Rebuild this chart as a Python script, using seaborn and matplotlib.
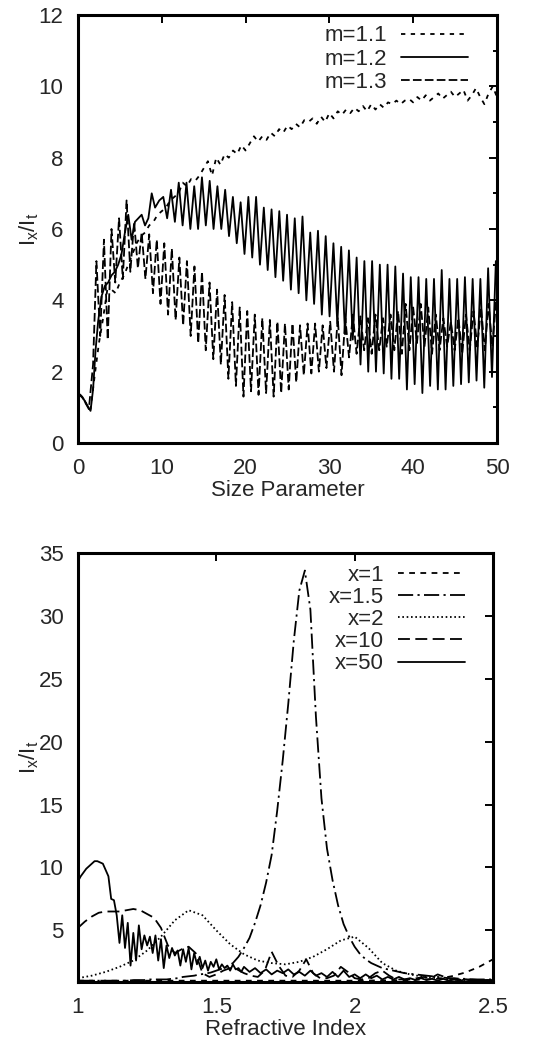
import numpy as np
import seaborn as sns
import matplotlib
matplotlib.use('Agg')
import matplotlib.pyplot as plt
from matplotlib.ticker import MultipleLocator

# ---- top panel: ratio vs size parameter ----
# m=1.1, sampled every 0.5 from x=0 to x=50
m11_y = [1.4, 1.3, 1.1, 0.95, 1.9, 2.8, 3.5, 4.3, 4.3, 4.2,
         4.5, 4.7, 5.0, 5.3, 5.6, 5.8, 5.9, 6.1, 6.2, 6.4,
         6.5, 6.6, 6.8, 6.9, 7.0, 7.3, 7.2, 7.4, 7.35, 7.5,
         7.7, 7.9, 7.5, 8.0, 7.8, 8.1, 8.0, 8.2, 8.1, 8.35,
         8.2, 8.4, 8.6, 8.45, 8.6, 8.5, 8.7, 8.6, 8.8, 8.7,
         8.9, 8.8, 8.95, 8.85, 9.05, 9.0, 9.1, 8.95, 9.15, 9.0,
         9.25, 9.1, 9.3, 9.2, 9.35, 9.25, 9.4, 9.3, 9.45, 9.3,
         9.5, 9.35, 9.5, 9.4, 9.55, 9.5, 9.6, 9.5, 9.6, 9.65,
         9.55, 9.7, 9.6, 9.75, 9.6, 9.7, 9.8, 9.65, 9.75, 9.85,
         9.7, 9.8, 9.9, 9.6, 9.75, 9.95, 9.7, 9.5, 9.8, 10.0,
         9.7]

# m=1.2: smooth start, then ripple (peaks / troughs)
m12_start_x = [0, 0.5, 1.0, 1.5, 1.8, 2.1, 2.4, 2.8, 3.2, 3.6, 4.0, 4.4, 4.8,
               5.2, 5.6, 6.0, 6.4, 6.8, 7.2, 7.6, 8.0, 8.4, 8.8, 9.2, 9.7]
m12_start_y = [1.4, 1.3, 1.1, 0.9, 1.5, 2.6, 3.4, 4.1, 4.4, 4.5, 4.7, 4.8, 5.0,
               5.3, 5.9, 6.4, 5.7, 6.2, 6.3, 6.4, 6.1, 6.3, 7.0, 6.6, 6.8]
m12_ripple_x0 = 10.18
m12_period = 0.923
m12_peaks = [6.9, 7.1, 7.3, 7.3, 7.2, 7.45, 7.35, 7.2, 7.1, 6.9,
             6.75, 6.9, 6.9, 6.6, 6.55, 6.5, 6.4, 6.3, 6.35, 5.9,
             5.95, 5.8, 5.6, 5.5, 5.4, 5.2, 5.1, 5.1, 5.0, 5.0,
             4.95, 4.75, 4.65, 4.65, 4.6, 4.6, 4.85, 4.6, 4.6, 4.65,
             4.6, 4.6, 4.9, 5.1]
m12_troughs = [6.3, 6.2, 6.1, 6.0, 6.0, 6.1, 6.0, 6.0, 5.8, 5.6,
               5.3, 5.2, 5.0, 4.85, 4.65, 4.55, 4.3, 4.2, 4.0, 3.9,
               3.6, 3.55, 3.35, 3.05, 2.9, 2.2, 2.0, 2.0, 1.95, 1.8,
               1.8, 1.5, 1.65, 1.4, 1.6, 1.5, 1.5, 1.6, 1.65, 1.7,
               1.75, 1.55, 1.85]

# m=1.3: short start, then ripple
m13_start_x = [0, 0.6, 1.3, 1.8]
m13_start_y = [1.4, 1.25, 0.95, 2.2]
m13_ripple_x0 = 2.2
m13_period = 0.9
m13_peaks = [5.1, 5.7, 6.0, 6.3, 6.8, 6.2, 5.9, 5.85, 5.7, 5.6,
             5.45, 5.2, 5.1, 4.95, 4.8, 4.5, 4.3, 4.15, 3.95, 3.8,
             3.7, 3.6, 3.5, 3.45, 3.4, 3.35, 3.35, 3.3, 3.35, 3.35,
             3.3, 3.4, 3.5, 3.5, 3.6, 3.55, 3.5, 3.6, 3.5, 3.6,
             3.7, 3.9, 3.8, 3.9, 3.8, 3.6, 3.5, 3.4, 3.5, 3.6,
             3.7, 3.8, 3.9, 4.0]
m13_troughs = [3.0, 2.9, 4.5, 4.6, 4.8, 4.9, 4.6, 4.2, 3.9, 3.6,
               3.45, 3.3, 3.0, 2.8, 2.6, 2.35, 2.2, 1.8, 1.6, 1.3,
               1.45, 1.35, 1.4, 1.3, 1.4, 1.5, 1.7, 1.9, 1.95, 2.0,
               2.1, 2.0, 1.9, 2.4, 2.5, 2.6, 2.5, 2.6, 2.7, 2.6,
               2.5, 2.6, 2.8, 2.7, 2.5, 2.6, 2.7, 2.6, 2.5, 2.6,
               2.7, 2.6, 2.7]

# ---- bottom panel: ratio vs refractive index ----
x1_x = [1.0, 1.5, 2.0, 2.2, 2.3, 2.35, 2.4, 2.45, 2.5]
x1_y = [1.0, 1.0, 1.0, 1.05, 1.15, 1.35, 1.65, 2.1, 2.7]

# x=1.5, every 0.02 from 1.0 to 2.5
x15_y = [1.0, 1.0, 1.0, 1.0, 1.0, 1.0, 1.0, 1.0, 1.0, 1.0,
         1.05, 1.05, 1.05, 1.1, 1.1, 1.1, 1.1, 1.15, 1.2, 1.3,
         1.35, 1.4, 1.5, 1.55, 1.65, 1.8, 1.95, 2.15, 2.4, 2.9,
         3.6, 4.4, 5.6, 7.0, 8.8, 11.0, 14.5, 18.5, 23.0, 28.0,
         32.0, 33.6, 30.5, 22.0, 15.5, 11.5, 9.0, 7.0, 5.5, 4.5,
         3.7, 3.1, 2.7, 2.4, 2.2, 2.0, 1.9, 1.8, 1.7, 1.6,
         1.55, 1.5, 1.45, 1.4, 1.35, 1.3, 1.25, 1.2, 1.2, 1.15,
         1.15, 1.1, 1.1, 1.1, 1.1, 1.1]

# x=2, every 0.05 from 1.0 to 2.5
x2_y = [1.2, 1.4, 1.7, 2.1, 2.6, 3.4, 4.5, 5.8, 6.6, 6.2,
        5.0, 3.9, 3.1, 2.6, 2.4, 2.3, 2.5, 2.9, 3.5, 4.2,
        4.5, 3.6, 2.4, 1.8, 1.5, 1.3, 1.2, 1.1, 1.05, 1.0,
        1.0]

# x=10, every 0.025 from 1.0 to 2.5
x10_y = [5.2, 5.7, 6.1, 6.4, 6.5, 6.5, 6.5, 6.6, 6.7, 6.6,
         6.3, 6.0, 5.2, 3.8, 3.2, 3.5, 3.7, 3.2, 1.6, 1.3,
         1.5, 1.8, 2.0, 1.9, 1.6, 1.4, 1.3, 1.8, 3.3, 2.2,
         1.4, 1.3, 1.8, 2.7, 1.6, 1.2, 1.2, 1.4, 2.1, 1.7,
         1.2, 1.1, 1.2, 1.6, 1.8, 1.4, 1.1, 1.1, 1.1, 1.2,
         1.3, 1.2, 1.5, 1.3, 1.1, 1.1, 1.1, 1.1, 1.05, 1.05,
         1.05]

# x=50: every 0.01 from 1.0 to 1.6, then every 0.02 to 2.5
x50_y_fine = [8.9, 9.3, 9.6, 9.9, 10.1, 10.3, 10.5, 10.5, 10.4, 10.3,
              9.8, 9.3, 7.5, 7.4, 6.2, 4.0, 6.2, 3.6, 5.6, 2.2,
              4.8, 2.6, 5.4, 3.5, 4.6, 3.8, 4.5, 3.2, 4.6, 2.6,
              4.3, 2.0, 3.8, 2.8, 3.6, 3.0, 3.4, 2.2, 3.5, 2.5,
              3.6, 1.9, 3.2, 2.3, 2.9, 2.0, 2.6, 1.8, 2.5, 2.1,
              2.7, 1.9, 2.3, 2.0, 2.2, 1.8, 2.3, 1.9, 2.0, 1.7,
              2.1]
x50_y_coarse = [1.7, 2.0, 1.6, 1.9, 1.5, 1.8, 1.6, 1.9, 1.5, 1.7,
                1.4, 1.8, 1.4, 1.6, 1.3, 1.7, 1.3, 1.8, 1.3, 1.5,
                1.2, 1.5, 1.2, 1.4, 1.1, 1.3, 1.1, 1.3, 1.1, 1.2,
                1.05, 1.2, 1.05, 1.15, 1.0, 1.15, 1.0, 1.1, 1.0, 1.1,
                1.0, 1.05, 1.0, 1.05, 1.0]


def ripple(start_x, start_y, x0, period, peaks, troughs):
    px = x0 + period * np.arange(len(peaks))
    tx = x0 + period * (np.arange(len(troughs)) + 0.5)
    rx = np.concatenate([px, tx])
    ry = np.concatenate([peaks, troughs])
    order = np.argsort(rx)
    x = np.concatenate([start_x, rx[order]])
    y = np.concatenate([start_y, ry[order]])
    return x, y


FS = 16


def style(ax):
    for s in ax.spines.values():
        s.set_linewidth(2.2)
        s.set_color('black')
    ax.tick_params(which='both', direction='in', top=True, right=True,
                   labelsize=FS, pad=10.5, width=1.4, color='black')
    ax.tick_params(which='major', length=6)
    ax.tick_params(which='minor', length=3)


sns.set_style('white')
plt.rcParams['font.family'] = ['Liberation Sans', 'DejaVu Sans']
plt.rcParams['mathtext.fontset'] = 'custom'
plt.rcParams['mathtext.rm'] = 'Liberation Sans'
plt.rcParams['mathtext.it'] = 'Liberation Sans:italic'

short_dash = (0, (2.4, 3.0))
long_dash = (0, (4.8, 1.8))
lw = 1.3

fig = plt.figure(figsize=(5.43, 10.57), dpi=100)
ax1 = fig.add_axes([0.1436, 0.5809, 0.7716, 0.4049])
ax2 = fig.add_axes([0.1436, 0.0710, 0.7643, 0.4059])

# top panel
m11_x = np.linspace(0, 50, len(m11_y))
m12_x, m12_y = ripple(m12_start_x, m12_start_y, m12_ripple_x0, m12_period, m12_peaks, m12_troughs)
m13_x, m13_y = ripple(m13_start_x, m13_start_y, m13_ripple_x0, m13_period, m13_peaks, m13_troughs)

sns.lineplot(x=m11_x, y=m11_y, ax=ax1, color='black', lw=lw, linestyle=short_dash,
             label='m=1.1', sort=False, estimator=None)
sns.lineplot(x=m12_x, y=m12_y, ax=ax1, color='black', lw=lw,
             label='m=1.2', sort=False, estimator=None)
sns.lineplot(x=m13_x, y=m13_y, ax=ax1, color='black', lw=lw, linestyle=long_dash,
             label='m=1.3', sort=False, estimator=None)

ax1.set_xlim(0, 50)
ax1.set_ylim(0, 12)
ax1.xaxis.set_major_locator(MultipleLocator(10))
ax1.yaxis.set_major_locator(MultipleLocator(2))
ax1.yaxis.set_minor_locator(MultipleLocator(1))
style(ax1)
ax1.set_xlabel('Size Parameter', fontsize=FS, labelpad=1)
ax1.set_ylabel(r'$\mathrm{I_x/I_t}$', fontsize=FS, labelpad=-1.5)
ax1.legend(loc='upper right', bbox_to_anchor=(0.931, 0.976), frameon=False,
           markerfirst=False, fontsize=FS, handlelength=3.0, handletextpad=0.63,
           labelspacing=0.1, borderpad=0, borderaxespad=0)

# bottom panel
x15_x = np.linspace(1.0, 2.5, len(x15_y))
x2_x = np.linspace(1.0, 2.5, len(x2_y))
x10_x = np.linspace(1.0, 2.5, len(x10_y))
x50_x = np.concatenate([np.linspace(1.0, 1.6, len(x50_y_fine)),
                        np.linspace(1.62, 2.5, len(x50_y_coarse))])
x50_y = np.concatenate([x50_y_fine, x50_y_coarse])

sns.lineplot(x=x1_x, y=x1_y, ax=ax2, color='black', lw=lw, linestyle=(0, (3.2, 3.0)),
             label='x=1', sort=False, estimator=None)
sns.lineplot(x=x15_x, y=x15_y, ax=ax2, color='black', lw=lw,
             linestyle=(0, (8.4, 2.4, 1.2, 2.4)), label='x=1.5', sort=False, estimator=None)
sns.lineplot(x=x2_x, y=x2_y, ax=ax2, color='black', lw=lw, linestyle=(0, (0.9, 1.5)),
             label='x=2', sort=False, estimator=None)
sns.lineplot(x=x10_x, y=x10_y, ax=ax2, color='black', lw=lw, linestyle=(0, (6.6, 3.0)),
             label='x=10', sort=False, estimator=None)
sns.lineplot(x=x50_x, y=x50_y, ax=ax2, color='black', lw=lw,
             label='x=50', sort=False, estimator=None)

ax2.set_xlim(1, 2.5)
ax2.set_ylim(0.9, 35)
ax2.set_yticks([5, 10, 15, 20, 25, 30, 35])
ax2.set_xticks([1, 1.5, 2, 2.5])
ax2.set_xticklabels(['1', '1.5', '2', '2.5'])
style(ax2)
ax2.set_xlabel('Refractive Index', fontsize=FS, labelpad=1)
ax2.set_ylabel(r'$\mathrm{I_x/I_t}$', fontsize=FS, labelpad=-1.5, y=0.524)
ax2.legend(loc='upper right', bbox_to_anchor=(0.932, 0.973), frameon=False,
           markerfirst=False, fontsize=FS, handlelength=3.0, handletextpad=0.63,
           labelspacing=0.055, borderpad=0, borderaxespad=0)

fig.savefig('out.png', dpi=100)
